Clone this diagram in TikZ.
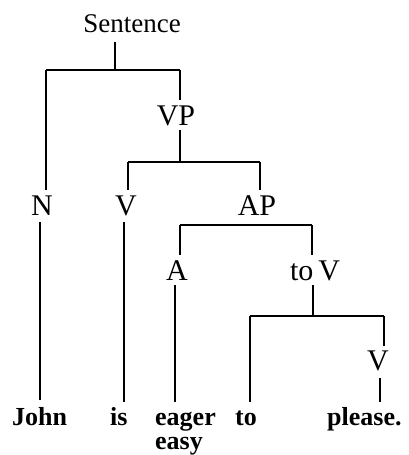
\documentclass[tikz,border=0pt]{standalone}
\usepackage{fontspec}
\setmainfont{Liberation Serif}
\usetikzlibrary{positioning}
\tikzstyle{cat} = [font=\fontsize{30}{34}\selectfont, inner sep=0pt, anchor=base]
\tikzstyle{word} = [font=\fontsize{26}{30}\selectfont\bfseries, inner sep=0pt, anchor=base west]
\tikzstyle{branch} = [line width=1.1pt]

\begin{document}
\begin{tikzpicture}[x=1pt,y=-1pt]
\useasboundingbox (0,0) rectangle (408,455);

\node (sent) [cat, font=\fontsize{27}{32}\selectfont] at (132,32) {Sentence};
\node (vp) [cat] at (176,125) {VP};
\node (n) [cat] at (42,215) {N};
\node (v) [cat] at (126,215) {V};
\node (ap) [cat] at (257,215) {AP};
\node (a) [cat] at (177,280) {A};
\node (tov) [cat] at (315,280) {to\,V};
\node (v2) [cat] at (378,370) {V};

\node (john) [word] at (12,425) {John};
\node (is) [word] at (110,425) {is};
\node (eager) [word] at (155,425) {eager};
\node (easy) [word] at (155,449) {easy};
\node (to) [word] at (235,425) {to};
\node (please) [word] at (327,425) {please.};

% Sentence -> N, VP
\coordinate (s1) at (115,42);
\coordinate (s2) at (115,70);
\coordinate (s3) at (46,70);
\coordinate (s4) at (180,70);
\coordinate (nTop) at (46,190);
\coordinate (vpTop) at (180,100);
\draw [branch] (s1) -- (s2);
\draw [branch] (s3) -- (s4);
\draw [branch] (s3) -- (nTop);
\draw [branch] (s4) -- (vpTop);

% VP -> V, AP
\coordinate (vp1) at (180,130);
\coordinate (vp0) at (180,162);
\coordinate (vp2) at (128,162);
\coordinate (vp3) at (260,162);
\coordinate (vTop) at (128,190);
\coordinate (apTop) at (260,190);
\draw [branch] (vp1) -- (vp0);
\draw [branch] (vp2) -- (vp3);
\draw [branch] (vp2) -- (vTop);
\draw [branch] (vp3) -- (apTop);

% AP -> A, to V
\coordinate (ap1) at (180,225);
\coordinate (ap2) at (312,225);
\coordinate (aTop) at (180,255);
\coordinate (tovTop) at (312,255);
\draw [branch] (ap1) -- (ap2);
\draw [branch] (ap1) -- (aTop);
\draw [branch] (ap2) -- (tovTop);

% to V -> to, V
\coordinate (tv1) at (313,285);
\coordinate (tv0) at (313,316);
\coordinate (tv2) at (250,316);
\coordinate (tv3) at (384,316);
\coordinate (v2Top) at (384,346);
\draw [branch] (tv1) -- (tv0);
\draw [branch] (tv2) -- (tv3);
\draw [branch] (tv3) -- (v2Top);

% down to the words
\coordinate (nBot) at (40,222);
\coordinate (johnTop) at (40,400);
\coordinate (vBot) at (124,222);
\coordinate (isTop) at (124,402);
\coordinate (aBot) at (175,285);
\coordinate (eagerTop) at (175,402);
\coordinate (toTop) at (250,402);
\coordinate (v2Bot) at (380,378);
\coordinate (pleaseTop) at (380,402);
\draw [branch] (nBot) -- (johnTop);
\draw [branch] (vBot) -- (isTop);
\draw [branch] (aBot) -- (eagerTop);
\draw [branch] (tv2) -- (toTop);
\draw [branch] (v2Bot) -- (pleaseTop);

\end{tikzpicture}
\end{document}
